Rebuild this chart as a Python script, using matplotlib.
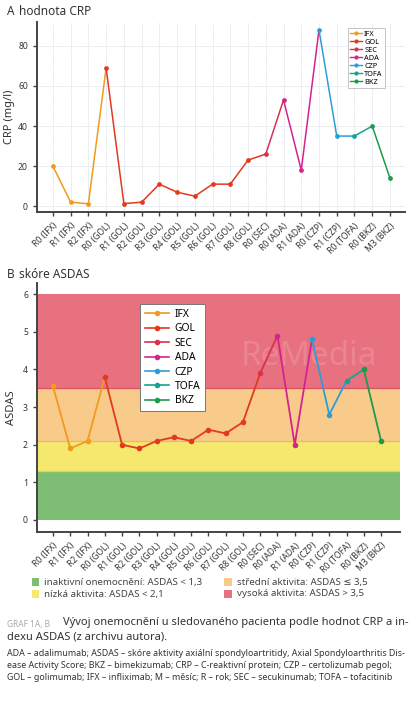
import matplotlib
matplotlib.use("Agg")
import matplotlib.pyplot as plt
from matplotlib.lines import Line2D
from matplotlib.patches import Rectangle

plt.rcParams['font.family'] = ['Noto Sans', 'DejaVu Sans']

labels = ["R0 (IFX)", "R1 (IFX)", "R2 (IFX)", "R0 (GOL)", "R1 (GOL)", "R2 (GOL)",
          "R3 (GOL)", "R4 (GOL)", "R5 (GOL)", "R6 (GOL)", "R7 (GOL)", "R8 (GOL)",
          "R0 (SEC)", "R0 (ADA)", "R1 (ADA)", "R0 (CZP)", "R1 (CZP)", "R0 (TOFA)",
          "R0 (BKZ)", "M3 (BKZ)"]
drugs = ["IFX"] * 3 + ["GOL"] * 9 + ["SEC"] + ["ADA"] * 2 + ["CZP"] * 2 + ["TOFA"] + ["BKZ"] * 2
crp = [20, 2, 1.2, 69, 1.3, 2, 11, 7, 5, 11, 11, 23, 26, 53, 18, 88, 35, 35, 40, 14]
asdas = [3.55, 1.9, 2.1, 3.8, 2.0, 1.9, 2.1, 2.2, 2.1, 2.4, 2.3, 2.6, 3.9, 4.9, 2.0,
         4.8, 2.8, 3.7, 4.0, 2.1]
drug_order = ["IFX", "GOL", "SEC", "ADA", "CZP", "TOFA", "BKZ"]
drug_colors = {"IFX": "#F29A1F", "GOL": "#E23A1E", "SEC": "#D8324E", "ADA": "#D4238F",
               "CZP": "#2A9ED8", "TOFA": "#13A58E", "BKZ": "#1F9A4A"}

band_edges = [0, 1.3, 2.1, 3.5, 6]
band_colors = ["#7DBE74", "#F4E86E", "#F8CB8A", "#E8717F"]
band_lines = ["#6FB067", "#E8D64A", "#F0B860", "#D95262"]
band_labels = ["inaktivní onemocnění: ASDAS < 1,3", "nízká aktivita: ASDAS < 2,1",
               "střední aktivita: ASDAS ≤ 3,5", "vysoká aktivita: ASDAS > 3,5"]

fig = plt.figure(figsize=(4.15, 7.05), dpi=100)
spine_c = "#444444"


def draw_series(ax, vals, ms, lw):
    n = len(vals)
    x = list(range(n))
    for d in drug_order:
        idx = [i for i in x if drugs[i] == d]
        seg = idx + ([idx[-1] + 1] if idx[-1] + 1 < n else [])
        ax.plot(seg, [vals[i] for i in seg], color=drug_colors[d], lw=lw, zorder=3)
        ax.plot(idx, [vals[i] for i in idx], 'o', color=drug_colors[d], ms=ms, zorder=4)


def style_axes(ax):
    for s in ["top", "right"]:
        ax.spines[s].set_visible(False)
    for s in ["left", "bottom"]:
        ax.spines[s].set_color(spine_c)
        ax.spines[s].set_linewidth(1.4)
    ax.tick_params(axis='both', colors=spine_c, labelcolor="#333333", length=3, width=1,
                   labelsize=6.2)
    ax.set_xticks(range(len(labels)))
    ax.set_xticklabels(labels, rotation=45, ha='right', rotation_mode='anchor')


# Panel A
axA = fig.add_axes([0.089, 0.699, 0.887, 0.270])
draw_series(axA, crp, 2.4, 1.1)
axA.set_xlim(-0.9, 19.85)
axA.set_ylim(-3, 92)
axA.set_yticks([0, 20, 40, 60, 80])
axA.grid(True, color="#dde3ea", lw=0.6, ls=(0, (2, 1)))
axA.set_axisbelow(True)
style_axes(axA)
axA.set_ylabel("CRP (mg/l)", fontsize=8, color="#333333", labelpad=2)
hA = [Line2D([0], [0], color=drug_colors[d], marker='o', ms=2, lw=1.0) for d in drug_order]
legA = axA.legend(hA, drug_order, loc='upper right', fontsize=5.3, handlelength=1.6,
                  handletextpad=0.3, labelspacing=0.12, borderpad=0.3, frameon=True,
                  fancybox=False, edgecolor="#bbbbbb", framealpha=1,
                  bbox_to_anchor=(0.955, 0.985))
legA.get_frame().set_linewidth(0.6)

fig.text(0.017, 0.983, "A", fontsize=8.5, fontweight='bold', color="#333333", va='center')
fig.text(0.045, 0.983, "hodnota CRP", fontsize=8.5, color="#333333", va='center')

# Panel B
axB = fig.add_axes([0.089, 0.2454, 0.875, 0.3532])
for i in range(4):
    axB.axhspan(band_edges[i], band_edges[i + 1], color=band_colors[i], lw=0, zorder=1)
for i in range(1, 4):
    axB.axhline(band_edges[i], color=band_lines[i], lw=0.9, zorder=2)
axB.text(14.8, 4.35, "ReMedia", fontsize=24, color="white", alpha=0.14, ha='center',
         va='center', zorder=2)
draw_series(axB, asdas, 3.0, 1.3)
axB.set_xlim(-0.93, 20.1)
axB.set_ylim(-0.32, 6.3)
axB.set_yticks([0, 1, 2, 3, 4, 5, 6])
style_axes(axB)
axB.set_ylabel("ASDAS", fontsize=8, color="#333333", labelpad=4)
hB = [Line2D([0], [0], color=drug_colors[d], marker='o', ms=3, lw=1.2) for d in drug_order]
legB = axB.legend(hB, drug_order, loc='upper left', fontsize=7.4, handlelength=2.4,
                  handletextpad=0.5, labelspacing=0.33, borderpad=0.45, frameon=True,
                  fancybox=False, edgecolor="#777777", framealpha=1,
                  bbox_to_anchor=(0.27, 0.935))
legB.get_frame().set_linewidth(0.7)

fig.text(0.017, 0.610, "B", fontsize=8.5, fontweight='bold', color="#333333", va='center')
fig.text(0.045, 0.610, "skóre ASDAS", fontsize=8.5, color="#333333", va='center')

# Band legend
pos = [(0.077, 1 - 582 / 705), (0.077, 1 - 594 / 705), (0.54, 1 - 582 / 705), (0.54, 1 - 594 / 705)]
for (x0, y0), c, t in zip(pos, band_colors, band_labels):
    fig.patches.append(Rectangle((x0, y0 - 0.0055), 0.018, 0.011, transform=fig.transFigure,
                                 color=c, lw=0))
    fig.text(x0 + 0.03, y0, t, fontsize=7, color="#444444", va='center')

# Caption
fig.text(0.017, 1 - 624 / 705, "GRAF 1A, B", fontsize=6.0, color="#aaaaaa", va='center',
         fontweight='bold')
fig.text(0.152, 1 - 623 / 705, "Vývoj onemocnění u sledovaného pacienta podle hodnot CRP a in-",
         fontsize=8.0, color="#333333", va='center', fontweight='bold')
fig.text(0.017, 1 - 637 / 705, "dexu ASDAS (z archivu autora).", fontsize=8.0, color="#333333",
         va='center', fontweight='bold')
small = ["ADA – adalimumab; ASDAS – skóre aktivity axiální spondyloartritidy, Axial Spondyloarthritis Dis-",
         "ease Activity Score; BKZ – bimekizumab; CRP – C-reaktivní protein; CZP – certolizumab pegol;",
         "GOL – golimumab; IFX – infliximab; M – měsíc; R – rok; SEC – secukinumab; TOFA – tofacitinib"]
for k, line in enumerate(small):
    fig.text(0.017, 1 - (654 + 12 * k) / 705, line, fontsize=6.4, color="#333333", va='center')

fig.savefig("out.png", dpi=100)
